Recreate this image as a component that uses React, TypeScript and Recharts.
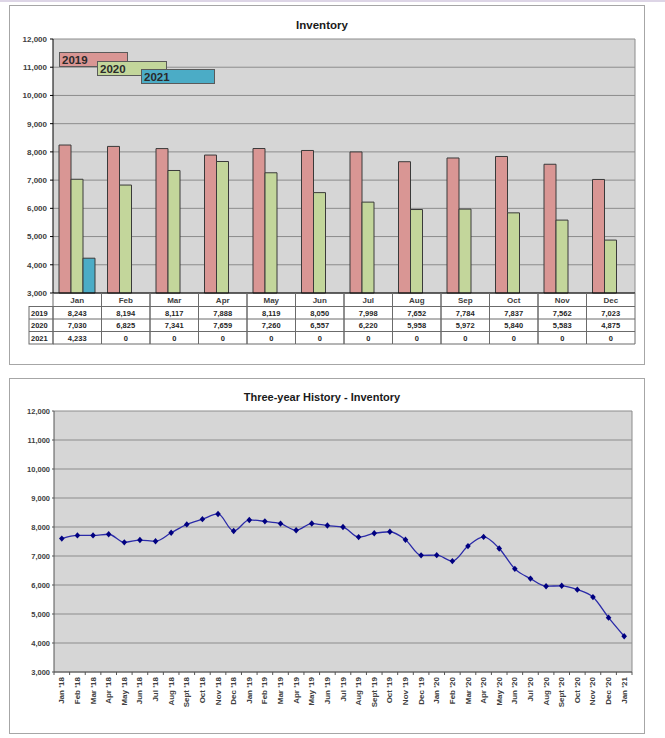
import { BarChart, Bar, LineChart, Line, XAxis, YAxis, CartesianGrid } from "recharts";

const FONT = "'Liberation Sans', Arial, sans-serif";

const months = ["Jan", "Feb", "Mar", "Apr", "May", "Jun", "Jul", "Aug", "Sep", "Oct", "Nov", "Dec"];
const years = ["2019", "2020", "2021"];
const inv2019 = [8243, 8194, 8117, 7888, 8119, 8050, 7998, 7652, 7784, 7837, 7562, 7023];
const inv2020 = [7030, 6825, 7341, 7659, 7260, 6557, 6220, 5958, 5972, 5840, 5583, 4875];
const inv2021 = [4233, 0, 0, 0, 0, 0, 0, 0, 0, 0, 0, 0];
const yearColors = ["#d99694", "#c3d69b", "#4bacc6"];
const yTicks = [3000, 4000, 5000, 6000, 7000, 8000, 9000, 10000, 11000, 12000];

// 2018; 2019-2021 come from the table
const hist2018 = [7600, 7710, 7710, 7750, 7470, 7550, 7510, 7800, 8090, 8270, 8450, 7860];
const histLabels = [
  "Jan '18", "Feb '18", "Mar '18", "Apr '18", "May '18", "Jun '18", "Jul '18", "Aug '18", "Sept '18", "Oct '18", "Nov '18", "Dec '18",
  "Jan '19", "Feb '19", "Mar '19", "Apr '19", "May '19", "Jun '19", "Jul '19", "Aug '19", "Sept '19", "Oct '19", "Nov '19", "Dec '19",
  "Jan '20", "Feb '20", "Mar '20", "Apr '20", "May '20", "Jun '20", "Jul '20", "Aug '20", "Sept '20", "Oct '20", "Nov '20", "Dec '20",
  "Jan '21",
];

const fmt = (v: number) => v.toLocaleString("en-US");

// top chart geometry
const TOP_W = 634;
const TOP_H = 358;
const TOP_M = { top: 33, right: 9, left: 0, bottom: 0 };
const TOP_YW = 43;
const CELL_W = (TOP_W - TOP_M.right - TOP_YW) / months.length;
const HDR_H = 13.5;
const ROW_H = 12.5;
const YEAR_COL = 24;

// bottom chart geometry
const BOT_W = 634;
const BOT_H = 354;
const BOT_M = { top: 32, right: 12, left: 0, bottom: 0 };
const BOT_YW = 44;
const HIST_W = (BOT_W - BOT_M.right - BOT_YW) / histLabels.length;

const series = [inv2019, inv2020, inv2021];

const barData = months.map((m, i) => ({
  month: m,
  y2019: inv2019[i],
  y2020: inv2020[i],
  y2021: inv2021[i] || null,
}));

const history = [...hist2018, ...inv2019, ...inv2020, inv2021[0]];
const lineData = histLabels.map((label, i) => ({ label, value: history[i] }));

const tickStyle = { fontSize: 8, fontWeight: "bold" as const, fill: "#404040", fontFamily: FONT };
const cellStroke = "#6b6b6b";

const TableTick = (props: any) => {
  const { x, y } = props;
  const i = props.index ?? props.payload?.index ?? 0;
  const l = x - CELL_W / 2;
  const bottom = y + HDR_H + 3 * ROW_H;
  return (
    <g>
      <line x1={l} y1={y} x2={l} y2={bottom} stroke={cellStroke} />
      <line x1={l + CELL_W} y1={y} x2={l + CELL_W} y2={bottom} stroke={cellStroke} />
      <text x={x} y={y + 9.5} textAnchor="middle" style={tickStyle}>
        {months[i]}
      </text>
      {series.map((vals, r) => (
        <g key={r}>
          <line x1={l} y1={y + HDR_H + r * ROW_H} x2={l + CELL_W} y2={y + HDR_H + r * ROW_H} stroke={cellStroke} />
          <text x={x} y={y + HDR_H + r * ROW_H + 9} textAnchor="middle" style={{ ...tickStyle, fontSize: 7.5, fill: "#262626" }}>
            {fmt(vals[i])}
          </text>
        </g>
      ))}
      <line x1={l} y1={bottom} x2={l + CELL_W} y2={bottom} stroke={cellStroke} />
      {i === 0 && (
        <g>
          <rect x={l - YEAR_COL} y={y + HDR_H} width={YEAR_COL} height={3 * ROW_H} fill="none" stroke={cellStroke} />
          {years.map((yr, r) => (
            <g key={yr}>
              <line x1={l - YEAR_COL} y1={y + HDR_H + r * ROW_H} x2={l} y2={y + HDR_H + r * ROW_H} stroke={cellStroke} />
              <text x={l - YEAR_COL + 2} y={y + HDR_H + r * ROW_H + 9} style={{ ...tickStyle, fontSize: 7.5, fill: "#262626" }}>
                {yr}
              </text>
            </g>
          ))}
        </g>
      )}
    </g>
  );
};

const HistTick = (props: any) => {
  const { x, y, payload } = props;
  const i = props.index ?? payload?.index ?? 0;
  return (
    <g>
      <line x1={x - HIST_W / 2} y1={y} x2={x - HIST_W / 2} y2={y + 3} stroke="#555" />
      {i === histLabels.length - 1 && (
        <line x1={x + HIST_W / 2} y1={y} x2={x + HIST_W / 2} y2={y + 3} stroke="#555" />
      )}
      <text
        x={x}
        y={y + 5}
        dy="0.32em"
        textAnchor="end"
        transform={`rotate(-90, ${x}, ${y + 5})`}
        style={tickStyle}
      >
        {payload.value}
      </text>
    </g>
  );
};

const DiamondDot = (props: any) => {
  const { cx, cy, index } = props;
  if (cx == null || cy == null) return null;
  return (
    <path
      key={index}
      d={`M${cx},${cy - 3.2}L${cx + 2.8},${cy}L${cx},${cy + 3.2}L${cx - 2.8},${cy}Z`}
      fill="#000080"
    />
  );
};

const panelStyle = (left: number, top: number, w: number, h: number) => ({
  position: "absolute" as const,
  left,
  top,
  width: w,
  height: h,
  border: "1px solid #a6a6a6",
  boxSizing: "border-box" as const,
  background: "#fff",
});

const legendBoxes = [
  { label: years[0], color: yearColors[0], left: 59, top: 52, w: 69 },
  { label: years[1], color: yearColors[1], left: 97, top: 61, w: 70 },
  { label: years[2], color: yearColors[2], left: 141, top: 69, w: 74 },
];

const App = () => {
  return (
    <div
      style={{
        position: "absolute",
        left: 0,
        top: 0,
        width: 665,
        height: 738,
        background: "#fff",
        fontFamily: FONT,
        overflow: "hidden",
      }}
    >
      <div style={{ position: "absolute", left: 0, top: 0, width: 665, height: 2, background: "#ddd5e6" }} />

      {/* Inventory by month */}
      <div style={panelStyle(9, 5, 636, 360)}>
        <div
          style={{
            position: "absolute",
            left: 0,
            top: 12,
            width: 624,
            textAlign: "center",
            fontSize: 11.5,
            fontWeight: "bold",
            color: "#1a1a1a",
            lineHeight: "14px",
          }}
        >
          Inventory
        </div>
        <BarChart width={TOP_W} height={TOP_H} data={barData} margin={TOP_M} barSize={12} barGap={0}>
          <CartesianGrid
            fill="#d6d6d6"
            fillOpacity={1}
            stroke="#8c8c8c"
            verticalCoordinatesGenerator={({ offset }: any) => [offset.left + offset.width]}
          />
          <XAxis
            dataKey="month"
            height={71}
            interval={0}
            tickLine={false}
            tickSize={0}
            tickMargin={0}
            axisLine={{ stroke: "#000" }}
            tick={(p: any) => <TableTick {...p} />}
          />
          <YAxis
            width={TOP_YW}
            domain={[3000, 12000]}
            ticks={yTicks}
            interval={0}
            tickFormatter={fmt}
            tick={tickStyle}
            tickSize={3}
            tickMargin={3}
            axisLine={{ stroke: "#000" }}
            tickLine={{ stroke: "#000" }}
          />
          <Bar dataKey="y2019" fill={yearColors[0]} stroke="#3a3a3a" isAnimationActive={false} />
          <Bar dataKey="y2020" fill={yearColors[1]} stroke="#3a3a3a" isAnimationActive={false} />
          <Bar dataKey="y2021" fill={yearColors[2]} stroke="#3a3a3a" isAnimationActive={false} />
        </BarChart>
      </div>

      {legendBoxes.map((b) => (
        <div
          key={b.label}
          style={{
            position: "absolute",
            left: b.left,
            top: b.top,
            width: b.w,
            height: 15,
            background: b.color,
            border: "1px solid #5a5a5a",
            boxSizing: "border-box",
            fontSize: 11.5,
            fontWeight: "bold",
            color: "#2a2a2a",
            lineHeight: "14px",
            paddingLeft: 2,
          }}
        >
          {b.label}
        </div>
      ))}

      {/* Three-year history */}
      <div style={panelStyle(9, 378, 636, 356)}>
        <div
          style={{
            position: "absolute",
            left: 0,
            top: 11,
            width: 624,
            textAlign: "center",
            fontSize: 11,
            fontWeight: "bold",
            color: "#1a1a1a",
            lineHeight: "14px",
          }}
        >
          Three-year History - Inventory
        </div>
        <LineChart width={BOT_W} height={BOT_H} data={lineData} margin={BOT_M}>
          <CartesianGrid
            fill="#d6d6d6"
            fillOpacity={1}
            stroke="#8c8c8c"
            verticalCoordinatesGenerator={({ offset }: any) => [offset.left + offset.width]}
          />
          <XAxis
            dataKey="label"
            height={61}
            interval={0}
            padding={{ left: HIST_W / 2, right: HIST_W / 2 }}
            tickLine={false}
            tickSize={0}
            tickMargin={0}
            axisLine={{ stroke: "#555" }}
            tick={(p: any) => <HistTick {...p} />}
          />
          <YAxis
            width={BOT_YW}
            domain={[3000, 12000]}
            ticks={yTicks}
            interval={0}
            tickFormatter={fmt}
            tick={{ ...tickStyle, fontSize: 7.5 }}
            tickSize={2}
            tickMargin={2}
            axisLine={{ stroke: "#555" }}
            tickLine={{ stroke: "#555" }}
          />
          <Line
            type="monotone"
            dataKey="value"
            stroke="#2a2aa8"
            strokeWidth={1.3}
            dot={(p: any) => <DiamondDot {...p} />}
            activeDot={false}
            isAnimationActive={false}
          />
        </LineChart>
      </div>
    </div>
  );
};

export default App;
